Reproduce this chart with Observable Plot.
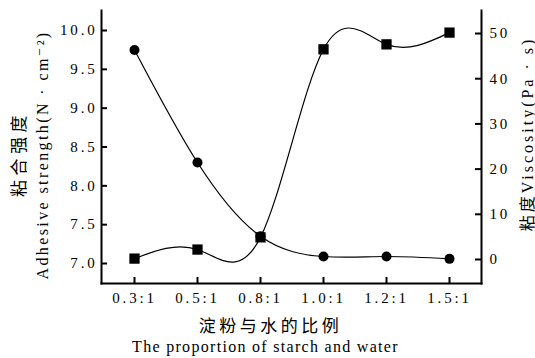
<!DOCTYPE html>
<html><head><meta charset="utf-8">
<script src="https://cdn.jsdelivr.net/npm/d3@7"></script>
<script src="https://cdn.jsdelivr.net/npm/@observablehq/plot@0.6"></script>
<style>
body{margin:0;background:#fff}
svg{display:block}
svg text{letter-spacing:2.8px}
</style>
</head><body><div id="chart"></div>
<script>
const ratios = ["0.3:1","0.5:1","0.8:1","1.0:1","1.2:1","1.5:1"];
const adhesive = [9.75, 8.30, 7.35, 7.09, 7.09, 7.06];
const viscosity = [0.2, 2.2, 4.9, 46.5, 47.6, 50.2];
const leftTicks = [7.0, 7.5, 8.0, 8.5, 9.0, 9.5, 10.0];
const rightTicks = [0, 10, 20, 30, 40, 50];
const xTitleZh = "淀粉与水的比例";
const xTitleEn = "The proportion of starch and water";
const yLeftZh = "粘合强度";
const yLeftEn = "Adhesive strength(N · cm⁻²)";
const yRight = "粘度Viscosity(Pa · s)";

// map viscosity onto the left (adhesive) scale
const k0 = 7.0515, k1 = 0.058195;
const toLeft = v => k0 + k1 * v;
const fromLeft = y => (y - k0) / k1;

const rowsA = ratios.map((r, i) => ({r, v: adhesive[i]}));
const rowsV = ratios.map((r, i) => ({r, v: toLeft(viscosity[i])}));

const serif = "'Liberation Serif','DejaVu Serif','Noto Sans CJK SC',serif";

const chart = Plot.plot({
  width: 535, height: 358,
  marginLeft: 101, marginRight: 54, marginTop: 10, marginBottom: 75,
  style: {fontFamily: serif, fontSize: "15px", color: "#000", background: "#fff"},
  x: {type: "point", domain: ratios, padding: 0.5},
  y: {domain: [6.7425, 10.2575]},
  marks: [
    Plot.frame({anchor: "left", strokeWidth: 2}),
    Plot.frame({anchor: "bottom", strokeWidth: 2}),
    Plot.frame({anchor: "right", strokeWidth: 2}),
    Plot.tickX(ratios, {x: d => d, insetTop: 267, strokeWidth: 2}),
    Plot.tickY(leftTicks, {y: d => d, insetRight: 374, strokeWidth: 2}),
    Plot.tickY(rightTicks.map(toLeft), {y: d => d, insetLeft: 374, strokeWidth: 2}),
    Plot.axisX({tickSize: 0, tickPadding: 9, label: null}),
    Plot.axisY({anchor: "left", ticks: leftTicks, tickFormat: d3.format(".1f"), tickSize: 0, tickPadding: 4, label: null}),
    Plot.axisY({anchor: "right", ticks: rightTicks.map(toLeft), tickFormat: d => String(Math.round(fromLeft(d))), tickSize: 0, tickPadding: 8, label: null}),
    Plot.line(rowsA, {x: "r", y: "v", curve: "natural", stroke: "#000", strokeWidth: 1.2}),
    Plot.line(rowsV, {x: "r", y: "v", curve: "natural", stroke: "#000", strokeWidth: 1.2}),
    Plot.dot(rowsA, {x: "r", y: "v", r: 5, fill: "#000", stroke: null}),
    Plot.dot(rowsV, {x: "r", y: "v", r: 5.8, symbol: "square", fill: "#000", stroke: null}),
    Plot.text([xTitleZh], {text: d => d, frameAnchor: "bottom", textAnchor: "middle", lineAnchor: "middle", dx: -21, dy: 43, fontSize: 17, fill: "#000"}),
    Plot.text([xTitleEn], {text: d => d, frameAnchor: "bottom", textAnchor: "middle", lineAnchor: "middle", dx: -26, dy: 63, fontSize: 16, fill: "#000"}),
    Plot.text([yLeftZh], {text: d => d, frameAnchor: "left", textAnchor: "middle", lineAnchor: "middle", dx: -82, dy: 7, rotate: -90, fontSize: 17, fill: "#000"}),
    Plot.text([yLeftEn], {text: d => d, frameAnchor: "left", textAnchor: "middle", lineAnchor: "middle", dx: -59, dy: 8, rotate: -90, fontSize: 16, fill: "#000"}),
    Plot.text([yRight], {text: d => d, frameAnchor: "right", textAnchor: "middle", lineAnchor: "middle", dx: 46, dy: -13, rotate: -90, fontSize: 16, fill: "#000"})
  ]
});
document.getElementById("chart").appendChild(chart);

// per-title letter spacing
const spacing = new Map([[xTitleZh, "3.5px"], [xTitleEn, "1.3px"], [yLeftZh, "4.5px"], [yLeftEn, "2.4px"], [yRight, "3px"]]);
d3.select(chart).selectAll("text").each(function() {
  const t = this.textContent;
  if (spacing.has(t)) this.style.letterSpacing = spacing.get(t);
});
</script>
</body></html>
